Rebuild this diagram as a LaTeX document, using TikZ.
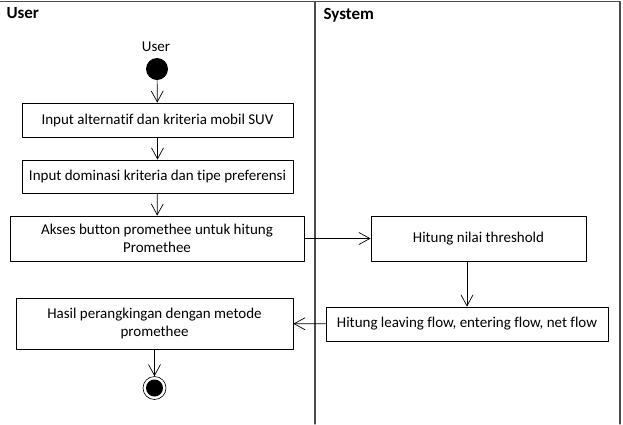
\documentclass[tikz,border=0pt]{standalone}
\usepackage{fontspec}
\setmainfont{Carlito}[Ligatures={NoCommon,NoContextual}]
\usetikzlibrary{arrows.meta}

\tikzset{
  act/.style={draw,line width=0.8pt,align=center,inner sep=2pt,font=\fontsize{15}{17.5}\selectfont},
  flow/.style={line width=0.7pt,-{Straight Barb[length=11pt,width=12pt,line width=0.7pt]}},
  lane/.style={line width=1.1pt,draw=black!70}
}

\begin{document}
\begin{tikzpicture}[x=1pt,y=-1pt,line cap=round,line join=round]
  \useasboundingbox (0,0) rectangle (623,424);

  % Swimlane frame: two lanes, open at the left and bottom like the source image.
  \draw[lane] (0,1.5)--(620,1.5)--(620,424);
  \draw[lane] (315,1.5)--(315,424);
  \node[anchor=west,font=\fontsize{17}{19}\selectfont\bfseries] (luser) at (3,13) {User};
  \node[anchor=west,font=\fontsize{17}{19}\selectfont\bfseries] (lsys) at (320,15) {System};

  % User lane
  \node[font=\fontsize{15}{17.5}\selectfont] (ulabel) at (156,47) {User};
  \node[circle,fill=black,minimum size=22pt,inner sep=0pt] (start) at (157,69) {};
  \node[act,minimum width=271pt,minimum height=34pt] (inp) at (157.5,120) {Input alternatif dan kriteria mobil SUV};
  \node[act,minimum width=271pt,minimum height=33pt] (dom) at (157.5,176.5) {Input dominasi kriteria dan tipe preferensi};
  \node[act,minimum width=294pt,minimum height=45pt] (akses) at (157,238.5)
    {Akses button promethee untuk hitung\\Promethee};
  \node[act,minimum width=277pt,minimum height=51pt] (hasil) at (154.5,323.5)
    {Hasil perangkingan dengan metode\\promethee};
  \node[circle,draw,line width=0.6pt,minimum size=23pt,inner sep=0pt] (stop) at (154.5,388) {};
  \fill (stop.center) circle (8.5);

  % System lane
  \node[act,minimum width=215pt,minimum height=45pt] (thr) at (478.5,238.5) {Hitung nilai threshold};
  \node[act,minimum width=282pt,minimum height=34pt] (net) at (467,324)
    {Hitung leaving flow, entering flow, net flow};

  \draw[flow] (start)--(inp);
  \draw[flow] (inp)--(dom);
  \draw[flow] (dom)--(akses);
  \draw[flow] (akses)--(thr);
  \draw[flow] (net.north |- thr.south)--(net.north);
  \draw[flow] (net)--(hasil);
  \draw[flow] (hasil)--(stop);
\end{tikzpicture}
\end{document}
